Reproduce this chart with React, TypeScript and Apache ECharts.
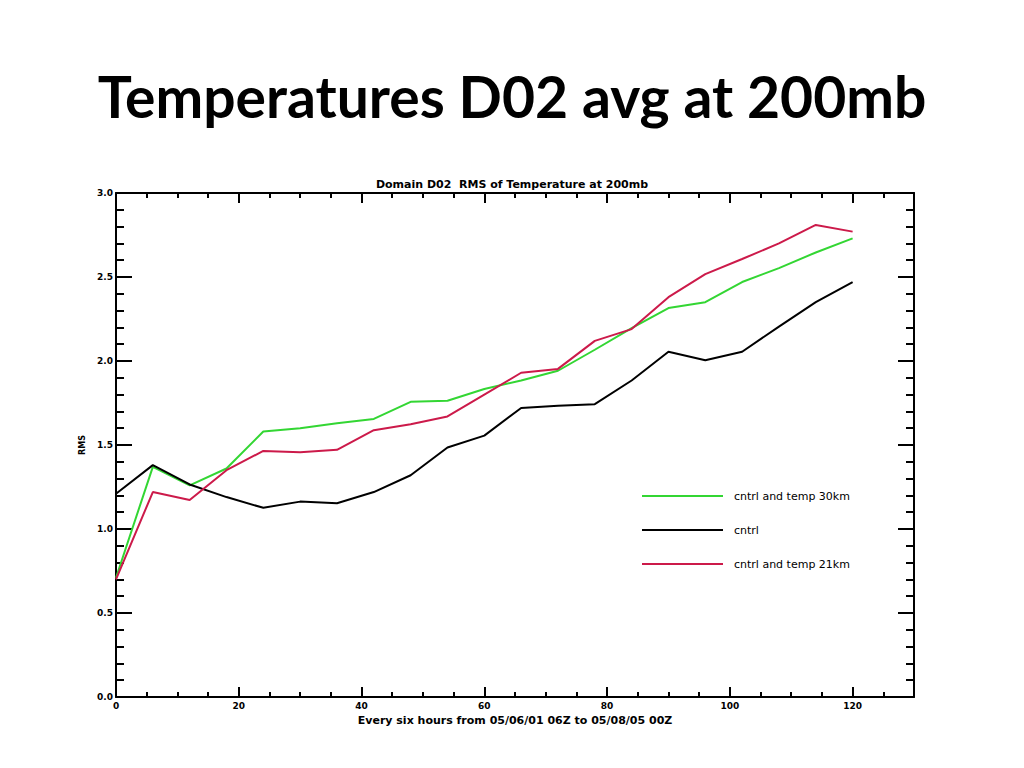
import React, { useEffect, useRef } from "react";
import * as echarts from "echarts";

const hours = [0, 6, 12, 18, 24, 30, 36, 42, 48, 54, 60, 66, 72, 78, 84, 90, 96, 102, 108, 114, 120];
const green30km = [0.71, 1.37, 1.26, 1.36, 1.58, 1.60, 1.63, 1.655, 1.757, 1.763, 1.833, 1.884, 1.942, 2.067, 2.196, 2.315, 2.35, 2.47, 2.553, 2.646, 2.73];
const cntrl = [1.21, 1.38, 1.265, 1.19, 1.126, 1.163, 1.153, 1.22, 1.32, 1.485, 1.556, 1.72, 1.733, 1.743, 1.884, 2.055, 2.005, 2.055, 2.205, 2.35, 2.47];
const red21km = [0.70, 1.22, 1.173, 1.35, 1.465, 1.457, 1.471, 1.588, 1.624, 1.67, 1.80, 1.93, 1.953, 2.12, 2.19, 2.38, 2.517, 2.607, 2.70, 2.81, 2.77];
const seriesNames = ["cntrl and temp 30km", "cntrl", "cntrl and temp 21km"];

const pairs = (v: number[]) => hours.map((h, i) => [h, v[i]]);

export default function App() {
  const ref = useRef<HTMLDivElement>(null);
  useEffect(() => {
    if (!ref.current) return;
    const chart = echarts.init(ref.current, null, { renderer: "svg" });
    const tickFont = { fontFamily: "DejaVu Sans", fontWeight: "bold" as const, fontSize: 9, color: "#000" };
    const axisLine = { show: true, onZero: false, lineStyle: { color: "#000", width: 2 } };
    const xTick = { show: true, inside: true, length: 10, lineStyle: { color: "#000", width: 2 } };
    const xMinor = { show: true, splitNumber: 4, length: 5, lineStyle: { color: "#000", width: 2 } };
    const yTick = { show: true, inside: true, length: 16, lineStyle: { color: "#000", width: 2 } };
    const yMinor = { show: true, splitNumber: 5, length: 8, lineStyle: { color: "#000", width: 2 } };
    chart.setOption({
      animation: false,
      backgroundColor: "#fff",
      title: [
        {
          text: "Temperatures D02 avg at 200mb",
          left: "center",
          top: 62,
          textStyle: { fontFamily: "Lato", fontWeight: "bold", fontSize: 57, color: "#000" },
        },
        {
          text: "Domain D02  RMS of Temperature at 200mb",
          left: "center",
          top: 174,
          textStyle: { fontFamily: "DejaVu Sans", fontWeight: "bold", fontSize: 11, color: "#000" },
        },
      ],
      grid: { left: 116, top: 193, right: 110, bottom: 71, containLabel: false },
      legend: {
        orient: "vertical",
        left: 637,
        top: 484,
        icon: "rect",
        itemWidth: 81,
        itemHeight: 2,
        itemGap: 20,
        data: seriesNames,
        textStyle: { fontFamily: "DejaVu Sans", fontSize: 11, color: "#000", lineHeight: 14, padding: [0, 0, 0, 6] },
      },
      xAxis: [
        {
          type: "value",
          min: 0,
          max: 130,
          interval: 20,
          position: "bottom",
          name: "Every six hours from 05/06/01 06Z to 05/08/05 00Z",
          nameLocation: "middle",
          nameGap: 15,
          nameTextStyle: { fontFamily: "DejaVu Sans", fontWeight: "bold", fontSize: 11, color: "#000" },
          axisLine,
          axisTick: xTick,
          minorTick: xMinor,
          splitLine: { show: false },
          axisLabel: { ...tickFont, margin: 4, showMaxLabel: false },
        },
        {
          type: "value",
          min: 0,
          max: 130,
          interval: 20,
          position: "top",
          axisLine,
          axisTick: xTick,
          minorTick: xMinor,
          splitLine: { show: false },
          axisLabel: { show: false },
        },
      ],
      yAxis: [
        {
          type: "value",
          min: 0,
          max: 3,
          interval: 0.5,
          position: "left",
          name: "RMS",
          nameLocation: "middle",
          nameRotate: 90,
          nameGap: 30,
          nameTextStyle: { fontFamily: "DejaVu Sans", fontWeight: "bold", fontSize: 8, color: "#000" },
          axisLine,
          axisTick: yTick,
          minorTick: yMinor,
          splitLine: { show: false },
          axisLabel: { ...tickFont, margin: 3, formatter: (v: number) => v.toFixed(1) },
        },
        {
          type: "value",
          min: 0,
          max: 3,
          interval: 0.5,
          position: "right",
          axisLine,
          axisTick: yTick,
          minorTick: yMinor,
          splitLine: { show: false },
          axisLabel: { show: false },
        },
      ],
      series: [
        {
          name: seriesNames[0],
          type: "line",
          data: pairs(green30km),
          symbol: "none",
          color: "#33d633",
          lineStyle: { width: 2, color: "#33d633" },
        },
        {
          name: seriesNames[1],
          type: "line",
          data: pairs(cntrl),
          symbol: "none",
          color: "#000",
          lineStyle: { width: 2, color: "#000" },
        },
        {
          name: seriesNames[2],
          type: "line",
          data: pairs(red21km),
          symbol: "none",
          color: "#cc1a4a",
          lineStyle: { width: 2, color: "#cc1a4a" },
        },
      ],
    });
    return () => chart.dispose();
  }, []);
  return <div ref={ref} style={{ position: "absolute", left: 0, top: 0, width: 1024, height: 768 }} />;
}
